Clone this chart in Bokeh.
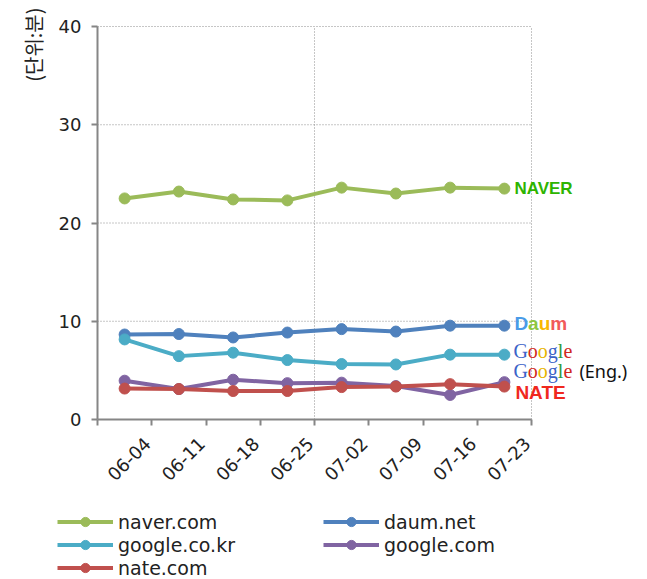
import math
from bokeh.plotting import figure
from bokeh.models import Range1d, Legend, LegendItem, FixedTicker, Label
from bokeh.core.properties import value
from bokeh.embed import file_html
from bokeh.resources import INLINE

dates = ["06-04", "06-11", "06-18", "06-25", "07-02", "07-09", "07-16", "07-23"]
naver = [22.5, 23.2, 22.4, 22.3, 23.6, 23.0, 23.6, 23.5]
daum = [8.65, 8.7, 8.35, 8.85, 9.2, 8.95, 9.55, 9.55]
google_kr = [8.15, 6.45, 6.8, 6.05, 5.65, 5.6, 6.6, 6.6]
google_com = [3.95, 3.1, 4.05, 3.7, 3.75, 3.4, 2.5, 3.8]
nate = [3.15, 3.1, 2.9, 2.9, 3.3, 3.35, 3.6, 3.35]
y_ticks = [0, 10, 20, 30, 40]

series = [
    ("naver.com", naver, "#9BBB59"),
    ("daum.net", daum, "#4F81BD"),
    ("google.co.kr", google_kr, "#4BACC6"),
    ("google.com", google_com, "#8064A2"),
    ("nate.com", nate, "#C0504D"),
]

n = len(dates)
xs = [i + 0.5 for i in range(n)]          # category centres
edges = [float(i) for i in range(n + 1)]  # category boundaries

# layout: plot area spans px 97..531 (x) and 26..419 (y) of the canvas
W, H = 640, 578
X0, X1, Y0, Y1 = 97, 531, 419, 26
ppx = (X1 - X0) / n
ppy = (Y0 - Y1) / (y_ticks[-1] - y_ticks[0])
xr = Range1d(-X0 / ppx, (W - X0) / ppx)
yr = Range1d(-(H - Y0) / ppy, y_ticks[-1] + Y1 / ppy)

FONT = "DejaVu Sans"
GRID = "#8c8c8c"
AXIS = "#868686"

p = figure(x_range=xr, y_range=yr, width=W, height=H, output_backend="svg",
           toolbar_location=None, min_border=0)
p.outline_line_color = None
p.background_fill_color = "white"
p.xgrid.grid_line_color = None
p.ygrid.grid_line_color = None

for ax in (p.xaxis, p.yaxis):
    ax.fixed_location = 0
    ax.axis_line_color = AXIS
    ax.axis_line_width = 2
    ax.major_label_text_font = FONT
    ax.major_label_text_font_size = "18px"
    ax.major_label_text_color = "#222222"

p.yaxis.ticker = FixedTicker(ticks=y_ticks)
p.yaxis.major_tick_line_color = AXIS
p.yaxis.major_tick_line_width = 2
p.yaxis.major_tick_out = 6
p.yaxis.major_tick_in = 0
p.yaxis.minor_tick_line_color = None
p.yaxis.major_label_standoff = 10
p.yaxis.bounds = (y_ticks[0], y_ticks[-1])

# rotated date labels sit slightly right of the category centre
lab_shift = 23 / ppx
lab_pos = [x + lab_shift for x in xs]
p.xaxis.ticker = FixedTicker(ticks=lab_pos, minor_ticks=edges)
p.xaxis.major_label_overrides = {x: d for x, d in zip(lab_pos, dates)}
p.xaxis.major_tick_line_color = None
p.xaxis.minor_tick_line_color = AXIS
p.xaxis.minor_tick_line_width = 2
p.xaxis.minor_tick_out = 6
p.xaxis.minor_tick_in = 0
p.xaxis.major_label_orientation = math.pi / 4
p.xaxis.major_label_standoff = 15
p.xaxis.bounds = (edges[0], edges[-1])

# dotted grid limited to the plot area
gy = y_ticks[1:]
p.segment(x0=[edges[0]] * len(gy), y0=gy, x1=[edges[-1]] * len(gy), y1=gy,
          line_color=GRID, line_dash="1 2", line_width=1)
gx = [edges[n // 2], edges[-1]]
p.segment(x0=gx, y0=[y_ticks[0]] * 2, x1=gx, y1=[y_ticks[-1]] * 2,
          line_color=GRID, line_dash="1 2", line_width=1)

items = {}
for name, vals, color in series:
    r1 = p.line(xs, vals, line_color=color, line_width=4)
    r2 = p.scatter(xs, vals, size=11, fill_color=color, line_color=color)
    items[name] = LegendItem(label=name, renderers=[r1, r2])

def make_legend(names, loc):
    lg = Legend(items=[items[k] for k in names], location=loc,
                orientation="vertical", glyph_width=56, glyph_height=23,
                label_height=19, spacing=0, padding=0, margin=0,
                label_standoff=5, label_text_font=FONT,
                label_text_font_size="19px", label_text_color="#222222",
                border_line_color=None, background_fill_alpha=0)
    p.add_layout(lg, "center")

make_legend(["naver.com", "google.co.kr", "nate.com"], (57, -1))
make_legend(["daum.net", "google.com"], (323, 22))

# unit label, top-left, reading upwards
p.add_layout(Label(x=(33 - X0) / ppx, y=y_ticks[-1] + (Y1 - 7) / ppy,
                   text="(단위:분)", angle=math.pi / 2,
                   text_align="right", text_baseline="middle",
                   text_font="Noto Sans CJK KR", text_font_size="20px",
                   text_color="#222222"))

# site logos (as coloured text) to the right of the last point
lx = [xs[-1]]

def logo(letters, y, font, size, style, x0):
    x = x0
    for ch, col, w in letters:
        p.text(x=lx, y=[y], text=[ch], x_offset=x, text_color=col,
               text_font=value(font), text_font_size=size, text_font_style=style,
               text_baseline="middle", text_align="left")
        x += w

logo([("NAVER", "#2DB400", 0)], 23.5, "Liberation Sans", "17px", "bold", 10)
logo([("D", "#4A9BE8", 13.7), ("a", "#8DC63F", 10.6), ("u", "#F9B800", 11.6),
      ("m", "#F15A5A", 0)], 9.75, "Liberation Sans", "19px", "bold", 10)
gl = [("G", "#3B63C8", 14.4), ("o", "#D0281E", 10.0), ("o", "#E8B400", 10.0),
      ("g", "#3B63C8", 10.0), ("l", "#2E9B3B", 5.6), ("e", "#D0281E", 0)]
logo(gl, 7.0, "Liberation Serif", "20px", "normal", 9)
logo(gl, 4.9, "Liberation Serif", "20px", "normal", 9)
p.text(x=lx, y=[4.9], text=["(Eng.)"], x_offset=75, text_color="#111111",
       text_font=value("Noto Sans"), text_font_size="18px", text_baseline="middle")
logo([("NATE", "#F0281E", 0)], 2.75, "Liberation Sans", "19px", "bold", 11)

open("out.html", "w").write(file_html(p, INLINE))
